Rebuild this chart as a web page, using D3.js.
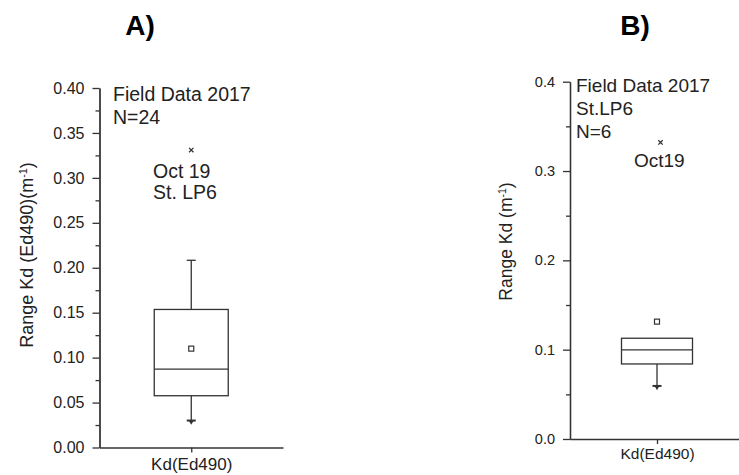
<!DOCTYPE html>
<html>
<head>
<meta charset="utf-8">
<script src="https://cdn.jsdelivr.net/npm/d3@7"></script>
<style>
  body { margin: 0; background: #fff; }
  svg { display: block; font-family: "Liberation Sans", Arial, sans-serif; }
  .axis path, .axis line { stroke: #333; stroke-width: 1.3; }
  .axis text { fill: #222; }
</style>
</head>
<body>
<div id="chart"></div>
<script>
// box stats: [whisker low, q1, median, q3, whisker high]
const categories = ["Kd(Ed490)"];
const boxA = [0.030, 0.0576, 0.0872, 0.1536, 0.2083];
const meanA = [0.110];
const outlierA = [0.331];
const majorTicksA = [0, 0.05, 0.10, 0.15, 0.20, 0.25, 0.30, 0.35, 0.40];
const minorTicksA = [0.025, 0.075, 0.125, 0.175, 0.225, 0.275, 0.325, 0.375];
const notesA = ["Field Data 2017", "N=24"];
const outlierNoteA = ["Oct 19", "St. LP6"];

const boxB = [0.0594, 0.084, 0.0997, 0.1128, 0.1128];
const meanB = [0.1314];
const outlierB = [0.332];
const majorTicksB = [0, 0.1, 0.2, 0.3, 0.4];
const minorTicksB = [0.05, 0.15, 0.25, 0.35];
const notesB = ["Field Data 2017", "St.LP6", "N=6"];
const outlierNoteB = ["Oct19"];

const svg = d3.select("#chart").append("svg")
    .attr("width", 739)
    .attr("height", 475);

function drawPanel(p) {
    const g = svg.append("g");
    const y = d3.scaleLinear().domain([0, 0.4]).range([p.bottom, p.top]);
    const x = d3.scalePoint().domain(categories).range([p.left, p.right]).padding(0.5);
    const cx = x(categories[0]);

    // minor ticks
    g.append("g")
        .attr("class", "axis")
        .attr("transform", "translate(" + p.left + ",0)")
        .call(d3.axisLeft(y).tickValues(p.minor).tickSize(4).tickSizeOuter(0).tickFormat(""));
    // major ticks
    g.append("g")
        .attr("class", "axis")
        .attr("transform", "translate(" + p.left + ",0)")
        .call(d3.axisLeft(y).tickValues(p.major).tickSize(7).tickPadding(8).tickSizeOuter(0).tickFormat(d3.format(p.fmt)))
        .selectAll("text")
        .style("font-size", p.tickFont + "px");

    g.append("g")
        .attr("class", "axis")
        .attr("transform", "translate(0," + p.bottom + ")")
        .call(d3.axisBottom(x).tickSize(5).tickPadding(p.xPad).tickSizeOuter(0))
        .selectAll("text")
        .style("font-size", p.xFont + "px");

    // y label
    const yl = g.append("text")
        .attr("transform", "translate(" + p.ylX + "," + p.ylY + ") rotate(-90)")
        .attr("text-anchor", "middle")
        .style("font-size", p.ylFont + "px")
        .attr("fill", "#222");
    yl.append("tspan").text(p.ylabel + "(m");
    yl.append("tspan").attr("dy", "-0.55em").style("font-size", "0.6em").text("-1");
    yl.append("tspan").attr("dy", "0.33em").text(")");

    const bw = p.boxW / 2;
    const s = p.box;
    const line = (x1, y1, x2, y2) => g.append("line")
        .attr("x1", x1).attr("y1", y1).attr("x2", x2).attr("y2", y2)
        .attr("stroke", "#333").attr("stroke-width", 1.3);

    // whiskers
    line(cx, y(s[0]), cx, y(s[1]));
    line(cx, y(s[3]), cx, y(s[4]));
    if (s[4] > s[3]) line(cx - 4.5, y(s[4]), cx + 4.5, y(s[4]));
    line(cx - 4.5, y(s[0]), cx + 4.5, y(s[0])).attr("stroke-width", 2);
    g.append("path")
        .attr("d", d3.symbol(d3.symbolTriangle, 14)())
        .attr("transform", "translate(" + cx + "," + (y(s[0]) + 1) + ") rotate(180)")
        .attr("fill", "#333");

    // box
    g.append("rect")
        .attr("x", cx - bw).attr("y", y(s[3]))
        .attr("width", p.boxW).attr("height", y(s[1]) - y(s[3]))
        .attr("fill", "none").attr("stroke", "#333").attr("stroke-width", 1.3);
    line(cx - bw, y(s[2]), cx + bw, y(s[2]));

    // mean
    g.selectAll(".mean").data(p.mean).enter().append("rect")
        .attr("x", cx - 2.5).attr("y", d => y(d) - 2.5)
        .attr("width", 5).attr("height", 5)
        .attr("fill", "none").attr("stroke", "#333").attr("stroke-width", 1.2);

    // outliers
    g.selectAll(".out").data(p.outliers).enter().append("path")
        .attr("d", d3.symbol(d3.symbolX, 14)())
        .attr("transform", d => "translate(" + (cx + p.outDx) + "," + y(d) + ")")
        .attr("stroke", "#333").attr("stroke-width", 1.3);

    // notes
    g.selectAll(".note").data(p.notes).enter().append("text")
        .attr("x", p.noteX)
        .attr("y", (d, i) => p.noteY + i * p.noteStep)
        .style("font-size", p.noteFont + "px")
        .attr("fill", "#222")
        .text(d => d);
    g.selectAll(".onote").data(p.outNotes).enter().append("text")
        .attr("x", p.onX)
        .attr("y", (d, i) => p.onY + i * 21)
        .style("font-size", p.noteFont + "px")
        .attr("fill", "#222")
        .text(d => d);

    // panel title
    svg.append("text")
        .attr("x", p.titleX).attr("y", 35)
        .attr("text-anchor", "middle")
        .style("font-size", "28px").style("font-weight", "bold")
        .attr("fill", "#000")
        .text(p.title);
}

drawPanel({
    title: "A)", titleX: 140,
    left: 99.5, right: 283, top: 88, bottom: 447.5,
    major: majorTicksA, minor: minorTicksA, fmt: ".2f", tickFont: 16,
    xFont: 17, xPad: 5,
    ylabel: "Range Kd (Ed490)", ylX: 33, ylY: 255, ylFont: 18,
    box: boxA, mean: meanA, outliers: outlierA, outDx: 0, boxW: 74,
    notes: notesA, noteX: 113, noteY: 101, noteStep: 22.5, noteFont: 19.5,
    outNotes: outlierNoteA, onX: 153, onY: 178
});

drawPanel({
    title: "B)", titleX: 635,
    left: 570, right: 744, top: 81.7, bottom: 439,
    major: majorTicksB, minor: minorTicksB, fmt: ".1f", tickFont: 14.5,
    xFont: 15.5, xPad: 4,
    ylabel: "Range Kd ", ylX: 512, ylY: 241.5, ylFont: 17.5,
    box: boxB, mean: meanB, outliers: outlierB, outDx: 3.5, boxW: 71,
    notes: notesB, noteX: 576, noteY: 92, noteStep: 23, noteFont: 19,
    outNotes: outlierNoteB, onX: 634, onY: 167
});
</script>
</body>
</html>
